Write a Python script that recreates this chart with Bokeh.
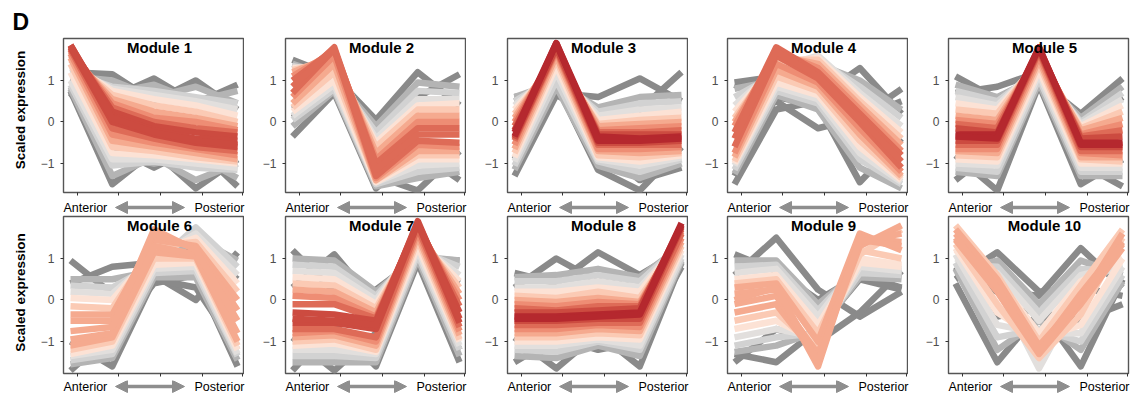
from bokeh.plotting import figure
from bokeh.models import Range1d, Label, Arrow, NormalHead, FixedTicker
from bokeh.layouts import row, column
from bokeh.embed import file_html
from bokeh.resources import INLINE

# ---------------- data ----------------
X_POS = [1, 2, 3, 4, 5]
X_TICKS = [1.17, 2.15, 3.15, 4.16, 5.12]
Y_TICKS = [-1, 0, 1]
Y_TICK_LABELS = {-1: "\u22121", 0: "0", 1: "1"}
TITLES = ["Module 1", "Module 2", "Module 3", "Module 4", "Module 5",
          "Module 6", "Module 7", "Module 8", "Module 9", "Module 10"]
X_LABEL_LEFT = "Anterior"
X_LABEL_RIGHT = "Posterior"
Y_LABEL = "Scaled expression"
PANEL_LETTER = "D"

# membership level -> colour (low = grey, high = red)
LEVEL_COLORS = ["#8a8a8a", "#b4b4b4", "#d2d2d2", "#e2dfdd", "#fce2d5",
                "#fbcab4", "#f5aa8f", "#ee8d74", "#de6b57", "#cc4b40", "#b5282e"]

# each line: (membership level, values at the 5 positions)
M1 = [(0, [1.2, 1.15, 0.5, 1.0, 0.3]), (0, [1.0, 0.6, 1.05, 0.45, 0.9]),
      (0, [0.75, -1.5, -0.7, -1.6, -0.9]), (0, [0.7, -0.6, -1.1, -0.6, -1.55]),
      (1, [1.1, 1.0, 0.6, 0.85, 0.45]), (1, [1.05, 0.7, 0.9, 0.5, 0.75]),
      (1, [0.8, -1.3, -0.85, -1.4, -1.0]), (1, [0.85, -0.8, -1.0, -0.8, -1.35]),
      (2, [1.2, 0.85, 0.75, 0.6, 0.45]), (2, [0.9, -1.05, -0.95, -1.1, -1.15]),
      (3, [1.3, 0.8, 0.65, 0.5, 0.3]), (3, [1.0, -0.9, -0.9, -1.0, -1.1]),
      (4, [1.4, 0.75, 0.55, 0.4, 0.15]), (4, [1.2, -0.75, -0.8, -0.9, -1.0]),
      (5, [1.5, 0.65, 0.4, 0.25, 0.0]), (5, [1.4, -0.6, -0.7, -0.85, -0.95]),
      (6, [1.6, 0.55, 0.25, 0.1, -0.1]), (6, [1.55, -0.45, -0.6, -0.75, -0.9]),
      (7, [1.7, 0.45, 0.1, 0.0, -0.2]), (7, [1.65, -0.3, -0.5, -0.65, -0.8]),
      (8, [1.75, 0.35, 0.0, -0.15, -0.25]), (8, [1.75, -0.15, -0.4, -0.6, -0.7]),
      (9, [1.8, 0.25, -0.1, -0.25, -0.35]), (9, [1.8, 0.0, -0.3, -0.5, -0.6]),
      (9, [1.85, 0.15, -0.2, -0.4, -0.45]), (9, [1.85, 0.1, -0.25, -0.45, -0.55])]
M2 = [(0, [1.5, 1.1, 0.05, 1.2, 0.4]), (0, [-0.35, 0.7, -0.4, 0.6, 1.15]),
      (0, [0.1, 0.7, -1.6, -0.7, -1.4]), (0, [0.3, 0.75, -1.3, -1.65, -0.7]),
      (1, [1.4, 1.05, -0.1, 0.95, 0.85]), (1, [-0.1, 0.75, -1.55, -1.35, -1.2]),
      (2, [1.35, 1.1, -0.25, 0.75, 0.7]), (2, [0.05, 0.8, -1.5, -1.2, -1.1]),
      (3, [1.3, 1.2, -0.4, 0.55, 0.55]), (3, [0.15, 0.9, -1.45, -1.05, -1.0]),
      (4, [1.3, 1.35, -0.5, 0.4, 0.45]), (4, [0.25, 1.0, -1.45, -0.9, -0.9]),
      (5, [1.25, 1.5, -0.6, 0.3, 0.3]), (5, [0.35, 1.2, -1.4, -0.8, -0.8]),
      (6, [1.2, 1.6, -0.75, 0.15, 0.15]), (6, [0.45, 1.4, -1.4, -0.7, -0.7]),
      (7, [1.1, 1.7, -0.9, 0.0, 0.0]), (7, [0.6, 1.6, -1.35, -0.55, -0.6]),
      (8, [1.0, 1.75, -1.0, -0.15, -0.15]), (8, [0.7, 1.75, -1.3, -0.45, -0.5]),
      (8, [0.85, 1.8, -1.15, -0.3, -0.3])]
M3 = [(0, [0.6, 0.7, 0.6, 1.05, 0.5]), (0, [-1.3, 0.65, 0.1, 0.3, 1.2]),
      (0, [0.5, 0.9, -1.15, -1.65, -0.6]), (0, [-0.9, 0.8, -0.6, -1.4, -1.1]),
      (1, [0.6, 0.95, 0.35, 0.6, 0.65]), (1, [-1.15, 0.85, -1.05, -1.35, -1.0]),
      (2, [0.5, 1.1, 0.25, 0.45, 0.5]), (2, [-1.05, 1.0, -0.95, -1.2, -0.9]),
      (3, [0.4, 1.25, 0.15, 0.3, 0.35]), (3, [-0.95, 1.2, -0.9, -1.05, -0.85]),
      (4, [0.3, 1.4, 0.05, 0.15, 0.25]), (4, [-0.85, 1.35, -0.85, -0.95, -0.8]),
      (5, [0.2, 1.5, -0.05, 0.05, 0.1]), (5, [-0.75, 1.5, -0.8, -0.85, -0.75]),
      (6, [0.1, 1.6, -0.1, -0.05, 0.0]), (6, [-0.65, 1.6, -0.7, -0.75, -0.7]),
      (7, [0.0, 1.7, -0.2, -0.15, -0.1]), (7, [-0.55, 1.7, -0.65, -0.65, -0.6]),
      (8, [-0.1, 1.75, -0.25, -0.25, -0.2]), (8, [-0.45, 1.75, -0.55, -0.55, -0.55]),
      (9, [-0.2, 1.8, -0.3, -0.3, -0.3]), (9, [-0.4, 1.8, -0.5, -0.5, -0.45]),
      (10, [-0.25, 1.9, -0.35, -0.4, -0.35]), (10, [-0.35, 1.9, -0.45, -0.45, -0.4])]
M4 = [(0, [0.95, 1.1, 0.6, 1.3, 0.2]), (0, [-1.5, 0.3, 0.5, 0.1, 0.8]),
      (0, [0.9, 0.5, -0.15, 0.1, 0.5]), (0, [-1.3, 0.6, 0.4, -1.45, -0.4]),
      (1, [0.8, 1.0, 1.4, 1.0, 0.3]), (1, [-1.25, 0.65, 0.3, -1.1, -1.6]),
      (2, [0.6, 1.15, 1.5, 0.85, 0.1]), (2, [-1.15, 0.75, 0.45, -0.9, -1.5]),
      (3, [0.4, 1.3, 1.6, 0.7, -0.1]), (3, [-1.05, 0.85, 0.55, -0.75, -1.45]),
      (4, [0.25, 1.4, 1.55, 0.6, -0.25]), (4, [-1.0, 0.95, 0.65, -0.6, -1.4]),
      (5, [0.1, 1.5, 1.5, 0.5, -0.4]), (5, [-0.95, 1.1, 0.75, -0.45, -1.35]),
      (6, [0.0, 1.6, 1.4, 0.4, -0.55]), (6, [-0.85, 1.25, 0.85, -0.3, -1.3]),
      (7, [-0.1, 1.7, 1.3, 0.3, -0.7]), (7, [-0.75, 1.4, 0.95, -0.15, -1.2]),
      (8, [-0.25, 1.8, 1.2, 0.2, -0.8]), (8, [-0.6, 1.6, 1.05, 0.0, -1.1]),
      (8, [-0.4, 1.7, 1.1, 0.1, -0.95])]
M5 = [(0, [1.1, 0.55, 1.0, 0.2, 1.05]), (0, [0.7, 0.85, 1.2, -0.1, 0.6]),
      (0, [-1.4, -0.6, 1.0, -1.0, -1.55]), (0, [-0.8, -1.65, 0.9, -1.5, -0.9]),
      (1, [0.9, 0.6, 1.1, 0.1, 0.85]), (1, [-1.2, -1.3, 0.95, -1.3, -1.3]),
      (2, [0.75, 0.5, 1.25, 0.0, 0.7]), (2, [-1.1, -1.2, 1.05, -1.2, -1.2]),
      (3, [0.6, 0.4, 1.35, -0.05, 0.55]), (3, [-1.0, -1.05, 1.15, -1.1, -1.1]),
      (4, [0.45, 0.3, 1.45, -0.1, 0.4]), (4, [-0.9, -0.95, 1.25, -1.0, -1.0]),
      (5, [0.3, 0.2, 1.5, -0.15, 0.25]), (5, [-0.8, -0.85, 1.4, -0.9, -0.95]),
      (6, [0.15, 0.05, 1.6, -0.2, 0.1]), (6, [-0.7, -0.75, 1.5, -0.85, -0.85]),
      (7, [0.05, -0.05, 1.65, -0.3, -0.05]), (7, [-0.65, -0.65, 1.6, -0.75, -0.8]),
      (8, [-0.05, -0.15, 1.7, -0.35, -0.2]), (8, [-0.55, -0.55, 1.7, -0.7, -0.7]),
      (9, [-0.15, -0.25, 1.75, -0.4, -0.35]), (9, [-0.45, -0.45, 1.75, -0.6, -0.6]),
      (10, [-0.3, -0.3, 1.8, -0.5, -0.5]), (10, [-0.35, -0.4, 1.8, -0.55, -0.55])]
M6 = [(0, [0.95, 0.15, 0.6, 0.0, 1.15]), (0, [0.4, 0.8, 0.9, 1.3, 0.5]),
      (0, [-1.7, -0.8, 0.4, 0.6, -1.6]), (0, [-1.0, -1.6, 0.5, 0.3, -1.2]),
      (1, [0.5, 0.5, 0.7, 1.5, 0.95]), (1, [-1.55, -1.4, 0.55, 0.55, -1.45]),
      (2, [0.35, 0.3, 0.85, 1.75, 0.8]), (2, [-1.45, -1.3, 0.65, 0.7, -1.35]),
      (3, [0.2, 0.15, 1.0, 1.6, 0.6]), (3, [-1.35, -1.2, 0.75, 0.8, -1.3]),
      (4, [0.05, 0.0, 1.15, 1.5, 0.4]), (4, [-1.3, -1.1, 0.85, 0.9, -1.2]),
      (5, [-0.15, -0.2, 1.3, 1.4, 0.2]), (5, [-1.2, -1.0, 1.0, 1.0, -1.1]),
      (6, [-0.35, -0.35, 1.45, 1.3, 0.0]), (6, [-1.1, -0.9, 1.15, 1.05, -1.0]),
      (6, [-0.5, -0.5, 1.6, 1.25, -0.25]), (6, [-0.95, -0.8, 1.3, 1.1, -0.8]),
      (6, [-0.75, -0.65, 1.7, 1.2, -0.5])]
M7 = [(0, [1.2, 0.2, 0.25, 1.0, 0.95]), (0, [0.3, 1.1, -0.1, 0.85, 0.4]),
      (0, [-1.7, -0.6, -1.6, 0.9, -1.5]), (0, [-0.9, -1.7, -0.8, 0.95, -1.2]),
      (1, [1.0, 0.95, 0.2, 1.05, 0.95]), (1, [-1.5, -1.5, -1.5, 1.0, -1.35]),
      (2, [0.85, 0.8, 0.1, 1.2, 0.8]), (2, [-1.35, -1.35, -1.4, 1.1, -1.2]),
      (3, [0.7, 0.65, 0.0, 1.35, 0.6]), (3, [-1.2, -1.2, -1.3, 1.2, -1.1]),
      (4, [0.55, 0.5, -0.1, 1.45, 0.45]), (4, [-1.1, -1.05, -1.25, 1.3, -1.0]),
      (5, [0.4, 0.35, -0.2, 1.55, 0.3]), (5, [-1.0, -0.95, -1.2, 1.45, -0.95]),
      (6, [0.25, 0.2, -0.3, 1.65, 0.15]), (6, [-0.9, -0.85, -1.1, 1.55, -0.85]),
      (7, [0.1, 0.05, -0.4, 1.75, 0.0]), (7, [-0.8, -0.75, -1.0, 1.65, -0.75]),
      (8, [-0.1, -0.1, -0.45, 1.8, -0.15]), (8, [-0.7, -0.7, -0.9, 1.75, -0.65]),
      (9, [-0.3, -0.35, -0.5, 1.85, -0.3]), (9, [-0.55, -0.55, -0.7, 1.85, -0.55]),
      (9, [-0.45, -0.5, -0.6, 1.9, -0.45])]
M8 = [(0, [0.65, 0.4, 1.15, 0.6, 1.2]), (0, [0.3, 1.0, 0.45, 0.5, 1.0]),
      (0, [-1.5, -0.9, -1.2, -1.0, 0.8]), (0, [-0.9, -1.65, -0.8, -1.6, 0.9]),
      (1, [0.55, 0.6, 0.75, 0.55, 1.3]), (1, [-1.35, -1.4, -1.1, -1.35, 0.95]),
      (2, [0.45, 0.45, 0.6, 0.45, 1.35]), (2, [-1.2, -1.25, -1.0, -1.2, 1.0]),
      (3, [0.3, 0.3, 0.45, 0.3, 1.4]), (3, [-1.1, -1.1, -0.95, -1.1, 1.1]),
      (4, [0.2, 0.2, 0.3, 0.2, 1.45]), (4, [-1.0, -1.0, -0.9, -0.95, 1.2]),
      (5, [0.1, 0.05, 0.2, 0.05, 1.5]), (5, [-0.9, -0.9, -0.8, -0.85, 1.3]),
      (6, [0.0, -0.05, 0.05, -0.05, 1.6]), (6, [-0.8, -0.8, -0.7, -0.75, 1.4]),
      (7, [-0.1, -0.15, -0.05, -0.1, 1.65]), (7, [-0.7, -0.7, -0.6, -0.65, 1.5]),
      (8, [-0.2, -0.25, -0.15, -0.15, 1.7]), (8, [-0.6, -0.6, -0.55, -0.55, 1.6]),
      (9, [-0.3, -0.3, -0.25, -0.2, 1.8]), (9, [-0.5, -0.5, -0.45, -0.45, 1.75]),
      (10, [-0.4, -0.4, -0.35, -0.3, 1.85]), (10, [-0.45, -0.45, -0.4, -0.35, 1.8])]
M9 = [(0, [1.1, 0.7, 0.0, 0.6, 0.3]), (0, [0.6, 1.5, 0.25, -0.4, 0.2]),
      (0, [-1.5, -0.7, -1.0, -0.3, 0.7]), (0, [-1.3, -1.5, -0.7, 0.5, 0.25]),
      (1, [0.95, 0.95, -0.1, 0.7, 0.55]), (1, [-1.25, -1.1, -0.75, 0.55, 0.5]),
      (2, [0.8, 0.85, -0.25, 0.8, 0.65]), (2, [-1.1, -0.9, -0.8, 0.65, 0.6]),
      (3, [0.65, 0.75, -0.4, 0.9, 0.75]), (3, [-0.9, -0.7, -0.9, 0.8, 0.7]),
      (4, [0.5, 0.6, -0.6, 1.0, 0.85]), (4, [-0.7, -0.5, -1.0, 0.9, 0.8]),
      (5, [0.4, 0.5, -0.8, 1.2, 1.0]), (5, [-0.5, -0.3, -1.2, 1.1, 1.7]),
      (6, [0.3, 0.4, -1.0, 1.6, 1.2]), (6, [-0.3, -0.1, -1.4, 1.3, 1.8]),
      (6, [0.15, 0.25, -1.6, 1.5, 1.4]), (6, [-0.1, 0.1, -1.3, 1.4, 1.6]),
      (6, [0.0, 0.3, -1.5, 1.45, 1.3])]
M10 = [(0, [0.5, 1.15, 0.2, 0.3, 0.1]), (0, [0.6, 0.2, 0.1, 1.25, 0.3]),
       (0, [0.4, -1.5, -0.3, -0.5, -0.1]), (0, [0.8, -0.4, -0.2, -1.6, 0.5]),
       (1, [0.7, 0.95, -0.1, 0.95, 0.6]), (1, [0.75, -1.2, -0.5, -1.2, 0.45]),
       (2, [0.85, 0.8, -0.3, 0.75, 0.7]), (2, [0.9, -0.9, -0.7, -1.0, 0.6]),
       (3, [1.0, 0.65, -0.5, 0.6, 0.85]), (3, [1.1, -0.6, -0.8, -0.8, 0.8]),
       (3, [1.5, 0.3, -1.65, 0.2, 1.0]), (4, [1.2, 0.5, -0.8, 0.45, 1.0]),
       (4, [1.25, -0.3, -0.95, -0.6, 1.0]), (5, [1.8, 0.6, -1.0, 0.35, 1.7]),
       (5, [1.35, -0.1, -1.4, -0.35, 1.5]), (6, [1.6, 0.4, -1.2, 0.15, 1.4]),
       (6, [1.45, 0.2, -1.3, -0.1, 1.25]), (6, [1.7, 0.5, -1.1, 0.0, 1.6]),
       (6, [1.5, 0.3, -1.25, 0.05, 1.35])]
MODULES = [M1, M2, M3, M4, M5, M6, M7, M8, M9, M10]

# ---------------- geometry / style ----------------
FONT = "Liberation Sans"
SX = 41.75          # px per x unit
SY = 41.5           # px per y unit
X0 = 0.832          # x value at the left frame edge
Y_END = 2.012       # y value at the top frame edge
FRAME_W = 180
LEFT_W = 32
LEFT_BORDERS = [31, 41, 41, 39, 40]
RIGHT_BORDERS = [1, 1, 1, 1, 2]
ROWS = [dict(top=38, frame=154, bottom=8, lab=15, lab_y=7),
        dict(top=1, frame=157, bottom=7, lab=17, lab_y=6)]
LINE_W = 6.5
ARROW_C = "#8e8e8e"


def xd(px):
    return X0 + px / SX


def yd(px):
    return Y_END - px / SY


def frame_lefts():
    out, acc = [], LEFT_W
    for c in range(5):
        out.append(acc + LEFT_BORDERS[c])
        acc += LEFT_BORDERS[c] + FRAME_W + RIGHT_BORDERS[c]
    return out, acc


FRAME_LEFTS, TOTAL_W = frame_lefts()


def blank(width, height, x0, x1):
    p = figure(width=width, height=height, x_range=Range1d(x0, x1),
               y_range=Range1d(0, height), x_axis_type=None, y_axis_type=None,
               output_backend="svg", toolbar_location=None, tools="",
               min_border=0, min_border_left=0, min_border_right=0,
               min_border_top=0, min_border_bottom=0)
    p.outline_line_color = None
    p.grid.visible = False
    p.background_fill_color = "white"
    p.border_fill_color = "white"
    return p


def make_panel(i):
    r, c = divmod(i, 5)
    g = ROWS[r]
    fh = g["frame"]
    p = figure(width=LEFT_BORDERS[c] + FRAME_W + RIGHT_BORDERS[c],
               height=g["top"] + fh + g["bottom"],
               x_range=Range1d(X0, xd(FRAME_W)), y_range=Range1d(yd(fh), Y_END),
               output_backend="svg", toolbar_location=None, tools="",
               min_border_left=LEFT_BORDERS[c], min_border_right=RIGHT_BORDERS[c],
               min_border_top=g["top"], min_border_bottom=g["bottom"])
    p.background_fill_color = "white"
    p.border_fill_color = "white"
    p.outline_line_color = "#555555"
    p.outline_line_width = 1.4
    p.xgrid.visible = False
    p.ygrid.visible = False

    p.yaxis.ticker = FixedTicker(ticks=Y_TICKS)
    p.yaxis.major_label_overrides = Y_TICK_LABELS
    p.yaxis.axis_line_color = None
    p.yaxis.major_tick_in = 0
    p.yaxis.major_tick_out = 3
    p.yaxis.minor_tick_line_color = None
    p.yaxis.major_tick_line_color = "#333333"
    p.yaxis.major_label_standoff = 6
    p.yaxis.major_label_text_font = FONT
    p.yaxis.major_label_text_font_size = "12px"
    p.yaxis.major_label_text_color = "#4d4d4d"

    p.xaxis.ticker = FixedTicker(ticks=X_TICKS)
    p.xaxis.axis_line_color = None
    p.xaxis.major_tick_in = 0
    p.xaxis.major_tick_out = 3
    p.xaxis.minor_tick_line_color = None
    p.xaxis.major_tick_line_color = "#333333"
    p.xaxis.major_label_standoff = 0
    p.xaxis.major_label_text_alpha = 0
    p.xaxis.major_label_text_font_size = "1px"

    lines = sorted(MODULES[i], key=lambda t: t[0])
    for lvl, vals in lines:
        p.line(X_POS, vals, line_color=LEVEL_COLORS[lvl], line_width=LINE_W,
               line_join="round")

    p.add_layout(Label(x=xd(96), y=yd(9), text=TITLES[i], text_align="center",
                       text_baseline="middle", text_font=FONT, text_font_size="15px",
                       text_font_style="bold", text_color="black"))
    return p


def make_labels(r):
    g = ROWS[r]
    h = g["lab"]
    p = blank(TOTAL_W - LEFT_W, h, LEFT_W, TOTAL_W)
    y = h - g["lab_y"]
    for fl in FRAME_LEFTS:
        p.add_layout(Label(x=fl, y=y, text=X_LABEL_LEFT, text_align="left",
                           text_baseline="middle", text_font=FONT,
                           text_font_size="12.5px", text_color="black"))
        p.add_layout(Label(x=fl + 181, y=y, text=X_LABEL_RIGHT, text_align="right",
                           text_baseline="middle", text_font=FONT,
                           text_font_size="12.5px", text_color="black"))
        p.add_layout(Arrow(x_start=fl + 52, y_start=y, x_end=fl + 121, y_end=y,
                           line_color=ARROW_C, line_width=3.5,
                           start=NormalHead(size=12, fill_color=ARROW_C,
                                            line_color=ARROW_C),
                           end=NormalHead(size=12, fill_color=ARROW_C,
                                          line_color=ARROW_C)))
    return p


def make_left():
    h = sum(g["top"] + g["frame"] + g["bottom"] + g["lab"] for g in ROWS)
    p = blank(LEFT_W, h, 0, LEFT_W)
    p.add_layout(Label(x=12, y=h - 21.5, text=PANEL_LETTER, text_align="left",
                       text_baseline="middle", text_font=FONT, text_font_size="23px",
                       text_font_style="bold", text_color="black"))
    top = 0
    for g, off in zip(ROWS, [71.5, 76]):
        cy = top + g["top"] + off
        p.add_layout(Label(x=20, y=h - cy, text=Y_LABEL, angle=1.5707963,
                           text_align="center", text_baseline="middle", text_font=FONT,
                           text_font_size="13.5px", text_font_style="bold",
                           text_color="black"))
        top += g["top"] + g["frame"] + g["bottom"] + g["lab"]
    return p


panels = [make_panel(i) for i in range(10)]
right = column(row(*panels[:5]), make_labels(0), row(*panels[5:]), make_labels(1))
layout = row(make_left(), right)

open("out.html", "w").write(file_html(layout, INLINE))
